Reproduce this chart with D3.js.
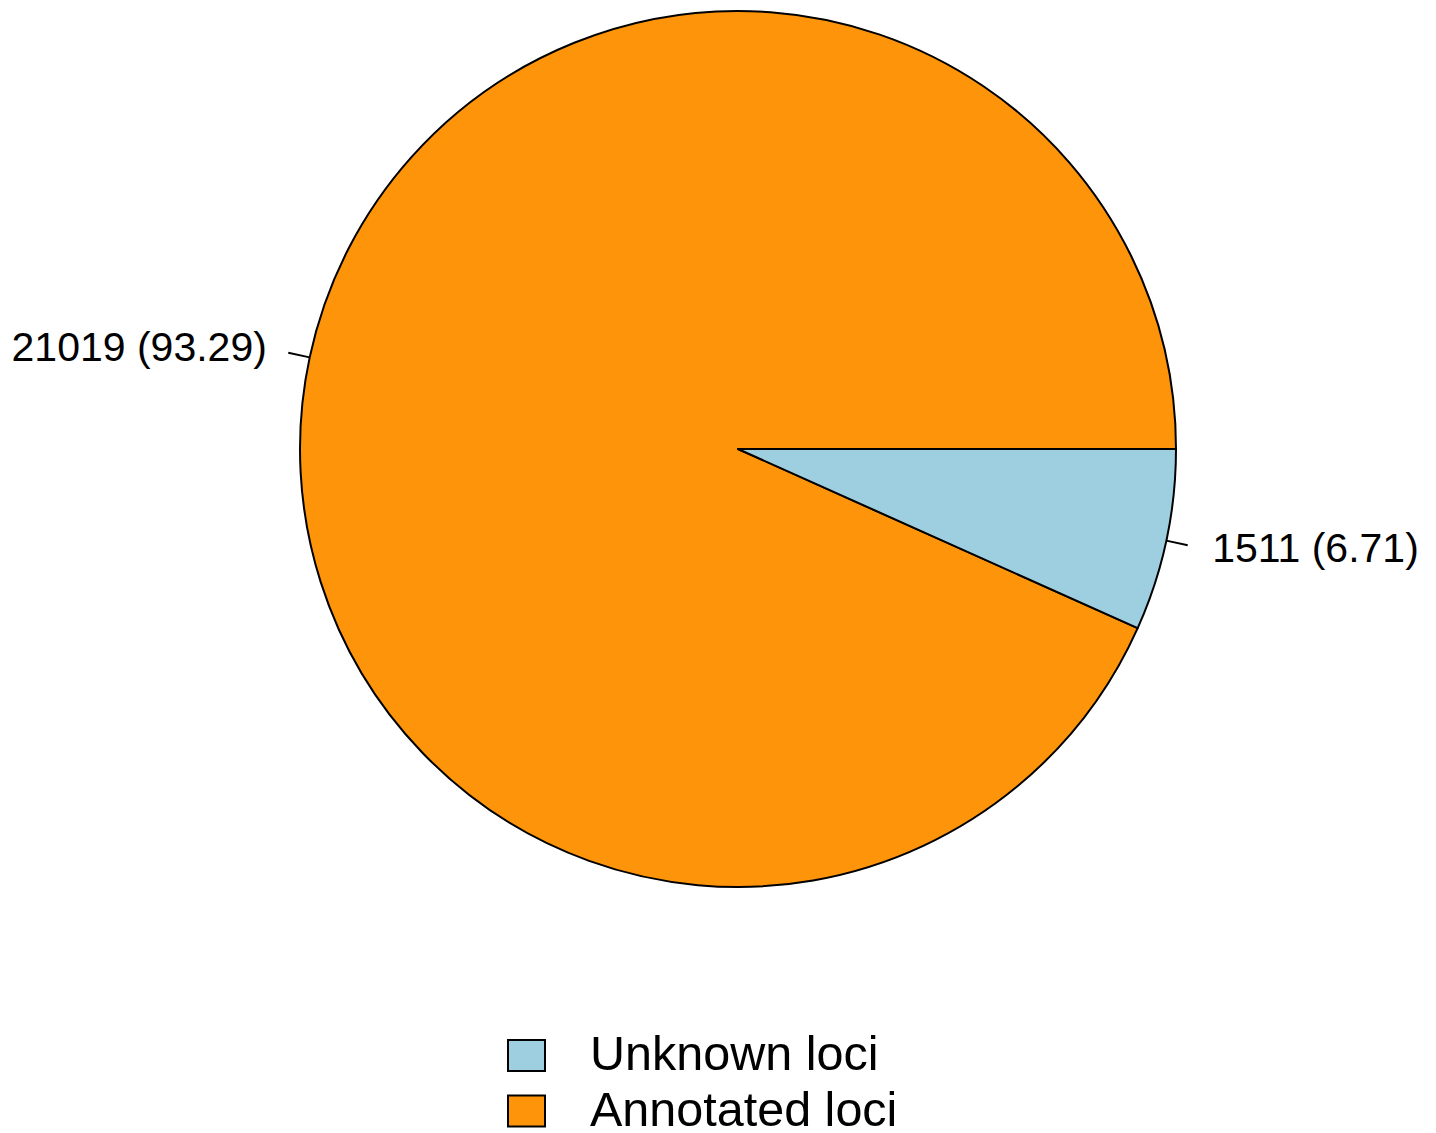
<!DOCTYPE html>
<html>
<head>
<meta charset="utf-8">
<script src="https://d3js.org/d3.v7.min.js"></script>
<style>
  body { margin: 0; background: #fff; }
  text { font-family: "Liberation Sans", Arial, sans-serif; fill: #000; }
</style>
</head>
<body>
<div class="chart"></div>
<script>
var svgWidth = 1436;
var svgHeight = 1133;

// slices in drawing order (counterclockwise from 3 o'clock, like R's pie)
var sliceNames = ["Annotated loci", "Unknown loci"];
var sliceValues = [21019, 1511];
var sliceColors = ["#FE9409", "#9ECFE0"];

// legend order
var legendNames = ["Unknown loci", "Annotated loci"];
var legendColors = ["#9ECFE0", "#FE9409"];

var cx = 738, cy = 449, radius = 438;

var svg = d3.select(".chart")
  .append("svg")
  .attr("width", svgWidth)
  .attr("height", svgHeight);

var pieGroup = svg.append("g")
  .attr("transform", `translate(${cx}, ${cy})`);

var total = d3.sum(sliceValues);
var data = sliceNames.map((n, i) => ({ name: n, value: sliceValues[i], color: sliceColors[i] }));

var pie = d3.pie()
  .value(d => d.value)
  .sort(null)
  .startAngle(Math.PI / 2)
  .endAngle(Math.PI / 2 - 2 * Math.PI);

var arcs = pie(data);

var arc = d3.arc().innerRadius(0).outerRadius(radius);

pieGroup.selectAll("path.slice")
  .data(arcs)
  .enter()
  .append("path")
  .attr("class", "slice")
  .attr("d", arc)
  .attr("fill", d => d.data.color)
  .attr("stroke", "#000")
  .attr("stroke-width", 2)
  .attr("stroke-linejoin", "round");

// tick lines from r to 1.05r, labels at 1.1r
function pointAt(d, r) {
  var a = (d.startAngle + d.endAngle) / 2;
  return [r * Math.sin(a), -r * Math.cos(a)];
}

pieGroup.selectAll("line.tick")
  .data(arcs)
  .enter()
  .append("line")
  .attr("x1", d => pointAt(d, radius)[0])
  .attr("y1", d => pointAt(d, radius)[1])
  .attr("x2", d => pointAt(d, radius * 1.05)[0])
  .attr("y2", d => pointAt(d, radius * 1.05)[1])
  .attr("stroke", "#000")
  .attr("stroke-width", 2);

pieGroup.selectAll("text.lab")
  .data(arcs)
  .enter()
  .append("text")
  .attr("x", d => pointAt(d, radius * 1.1)[0] + (pointAt(d, 1)[0] > 0 ? 3 : 0))
  .attr("y", d => pointAt(d, radius * 1.1)[1])
  .attr("dy", "0.3em")
  .attr("text-anchor", d => pointAt(d, 1)[0] > 0 ? "start" : "end")
  .style("font-size", "41px")
  .text(d => `${d.data.value} (${(d.data.value / total * 100).toFixed(2)})`);

// legend
var legend = svg.append("g")
  .attr("transform", "translate(508, 1040)");

var rows = legend.selectAll("g.row")
  .data(legendNames)
  .enter()
  .append("g")
  .attr("transform", (d, i) => `translate(0, ${i * 55.5})`);

rows.append("rect")
  .attr("x", 0)
  .attr("y", 0)
  .attr("width", 37)
  .attr("height", 31)
  .attr("fill", (d, i) => legendColors[i])
  .attr("stroke", "#000")
  .attr("stroke-width", 2);

rows.append("text")
  .attr("x", 82)
  .attr("y", 30)
  .style("font-size", "48.5px")
  .text(d => d);
</script>
</body>
</html>
